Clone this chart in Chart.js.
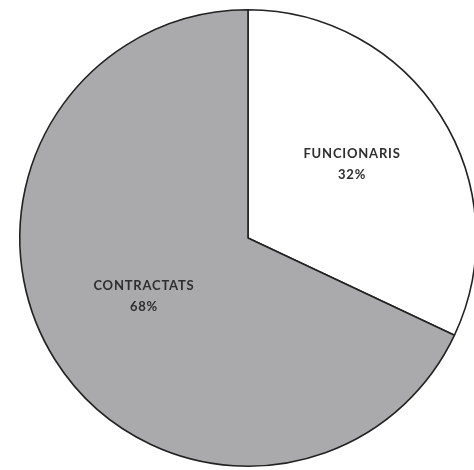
<!DOCTYPE html>
<html>
<head>
<meta charset="utf-8">
<script src="https://cdn.jsdelivr.net/npm/chart.js@4"></script>
<style>
  html, body { margin: 0; padding: 0; background: #fff; overflow: hidden; }
  #wrap { width: 496px; height: 470px; position: relative; }
</style>
</head>
<body>
<div id="wrap"><canvas id="myChart"></canvas></div>
<script>
// data
var labels = ['FUNCIONARIS', 'CONTRACTATS'];
var values = [32, 68];
var colors = ['#ffffff', '#aaaaad'];

// draw name + percent inside each slice
var sliceLabels = {
    id: 'sliceLabels',
    afterDatasetsDraw: function (chart) {
        var ctx = chart.ctx;
        var meta = chart.getDatasetMeta(0);
        var total = values.reduce(function (a, b) { return a + b; }, 0);
        ctx.save();
        ctx.fillStyle = '#2e2e2e';
        ctx.textAlign = 'center';
        ctx.textBaseline = 'middle';
        ctx.font = 'bold 13px "Lato", "Open Sans", sans-serif';
        ctx.letterSpacing = '0.8px';
        meta.data.forEach(function (arc, i) {
            var p = arc.getProps(['x', 'y', 'startAngle', 'endAngle', 'outerRadius'], true);
            var mid = (p.startAngle + p.endAngle) / 2;
            var r = p.outerRadius * 0.54;
            var x = p.x + Math.cos(mid) * r;
            var y = p.y + Math.sin(mid) * r;
            ctx.fillText(labels[i], x, y - 18);
            ctx.fillText(Math.round(values[i] / total * 100) + '%', x, y + 3);
        });
        ctx.restore();
    }
};

var ctx = document.getElementById('myChart');
new Chart(ctx, {
    type: 'pie',
    data: {
        labels: labels,
        datasets: [{
            data: values,
            backgroundColor: colors,
            borderColor: '#222222',
            borderWidth: 1.6
        }]
    },
    options: {
        responsive: true,
        maintainAspectRatio: false,
        animation: false,
        layout: { padding: { left: 19, right: 19, top: 9, bottom: 3 } },
        plugins: {
            legend: { display: false },
            tooltip: { enabled: false }
        }
    },
    plugins: [sliceLabels]
});
</script>
</body>
</html>
